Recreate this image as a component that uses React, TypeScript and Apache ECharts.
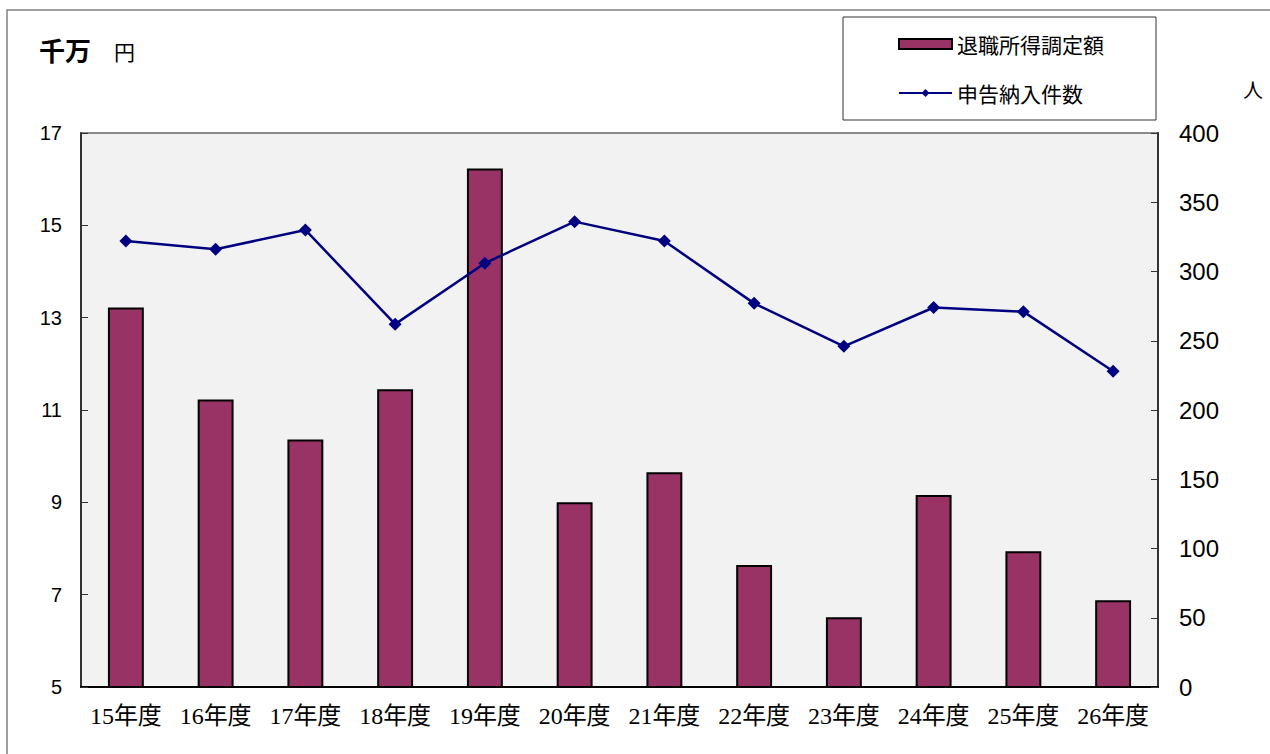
import React, { useEffect, useRef } from "react";
import * as echarts from "echarts";

const categories = ["15年度", "16年度", "17年度", "18年度", "19年度", "20年度", "21年度", "22年度", "23年度", "24年度", "25年度", "26年度"];
const amountValues = [13.22, 11.23, 10.36, 11.45, 16.23, 9.0, 9.65, 7.64, 6.51, 9.16, 7.94, 6.88];
const countValues = [322, 316, 330, 262, 306, 336, 322, 277, 246, 274, 271, 228];
const amountName = "退職所得調定額";
const countName = "申告納入件数";

export default function App() {
  const ref = useRef<HTMLDivElement>(null);
  useEffect(() => {
    if (!ref.current) return;
    const chart = echarts.init(ref.current, null, { renderer: "svg" });
    const sans = "'Liberation Sans', 'Noto Sans CJK JP', sans-serif";
    const serif = "'Liberation Serif', 'Noto Sans CJK JP', serif";
    chart.setOption({
      animation: false,
      backgroundColor: "#ffffff",
      graphic: [
        {
          type: "polyline",
          shape: { points: [[7, 800], [7, 10], [1300, 10]] },
          style: { stroke: "#808080", lineWidth: 1.5, fill: "none" },
        },
        {
          type: "rect",
          shape: { x: 843, y: 17, width: 313, height: 103 },
          style: { stroke: "#333", lineWidth: 1, fill: "#fff" },
          z: 0,
        },
        {
          type: "text",
          x: 39,
          y: 49,
          style: { text: "千万", font: "bold 26px 'Noto Sans CJK JP', sans-serif", fill: "#000", verticalAlign: "middle" },
        },
        {
          type: "text",
          x: 114,
          y: 51,
          style: { text: "円", font: "21px 'Noto Sans CJK JP', sans-serif", fill: "#000", verticalAlign: "middle" },
        },
        {
          type: "text",
          x: 1243,
          y: 89,
          style: { text: "人", font: "20px 'Noto Sans CJK JP', sans-serif", fill: "#000", verticalAlign: "middle" },
        },
      ],
      legend: {
        orient: "vertical",
        left: 893,
        top: 28,
        itemGap: 27,
        itemWidth: 53,
        itemHeight: 10,
        z: 5,
        textStyle: { fontFamily: "'Noto Sans CJK JP', sans-serif", fontSize: 21, color: "#000", lineHeight: 22 },
        data: [{ name: amountName, icon: "rect" }, { name: countName }],
      },
      grid: {
        left: 81,
        right: 112,
        top: 133,
        bottom: 67,
        show: true,
        backgroundColor: "#f2f2f2",
        borderColor: "#666",
        borderWidth: 1.5,
      },
      xAxis: {
        type: "category",
        data: categories,
        boundaryGap: true,
        axisLine: { lineStyle: { color: "#000", width: 2 } },
        axisTick: { inside: true, length: 6, alignWithLabel: false, interval: 0, lineStyle: { color: "#333" } },
        axisLabel: { fontFamily: serif, fontSize: 24, color: "#000", margin: 17, interval: 0, hideOverlap: false },
      },
      yAxis: [
        {
          type: "value",
          min: 5,
          max: 17,
          interval: 2,
          position: "left",
          axisLine: { show: true, lineStyle: { color: "#333", width: 2 } },
          axisTick: { show: true, inside: true, length: 7, lineStyle: { color: "#333" } },
          axisLabel: { fontFamily: sans, fontSize: 20, color: "#000", margin: 19 },
          splitLine: { show: false },
        },
        {
          type: "value",
          min: 0,
          max: 400,
          interval: 50,
          position: "right",
          axisLine: { show: true, lineStyle: { color: "#333", width: 2 } },
          axisTick: { show: true, inside: true, length: 7, lineStyle: { color: "#333" } },
          axisLabel: { fontFamily: sans, fontSize: 24, color: "#000", margin: 21 },
          splitLine: { show: false },
        },
      ],
      series: [
        {
          name: amountName,
          type: "bar",
          yAxisIndex: 0,
          data: amountValues,
          barWidth: "40%",
          itemStyle: { color: "#993366", borderColor: "#000", borderWidth: 2 },
        },
        {
          name: countName,
          type: "line",
          yAxisIndex: 1,
          data: countValues,
          symbol: "diamond",
          symbolSize: 13,
          lineStyle: { color: "#000080", width: 2.5 },
          itemStyle: { color: "#000080" },
          z: 3,
        },
      ],
    });
    return () => chart.dispose();
  }, []);
  return (
    <div
      ref={ref}
      style={{ position: "absolute", left: 0, top: 0, width: 1270, height: 754 }}
    />
  );
}
